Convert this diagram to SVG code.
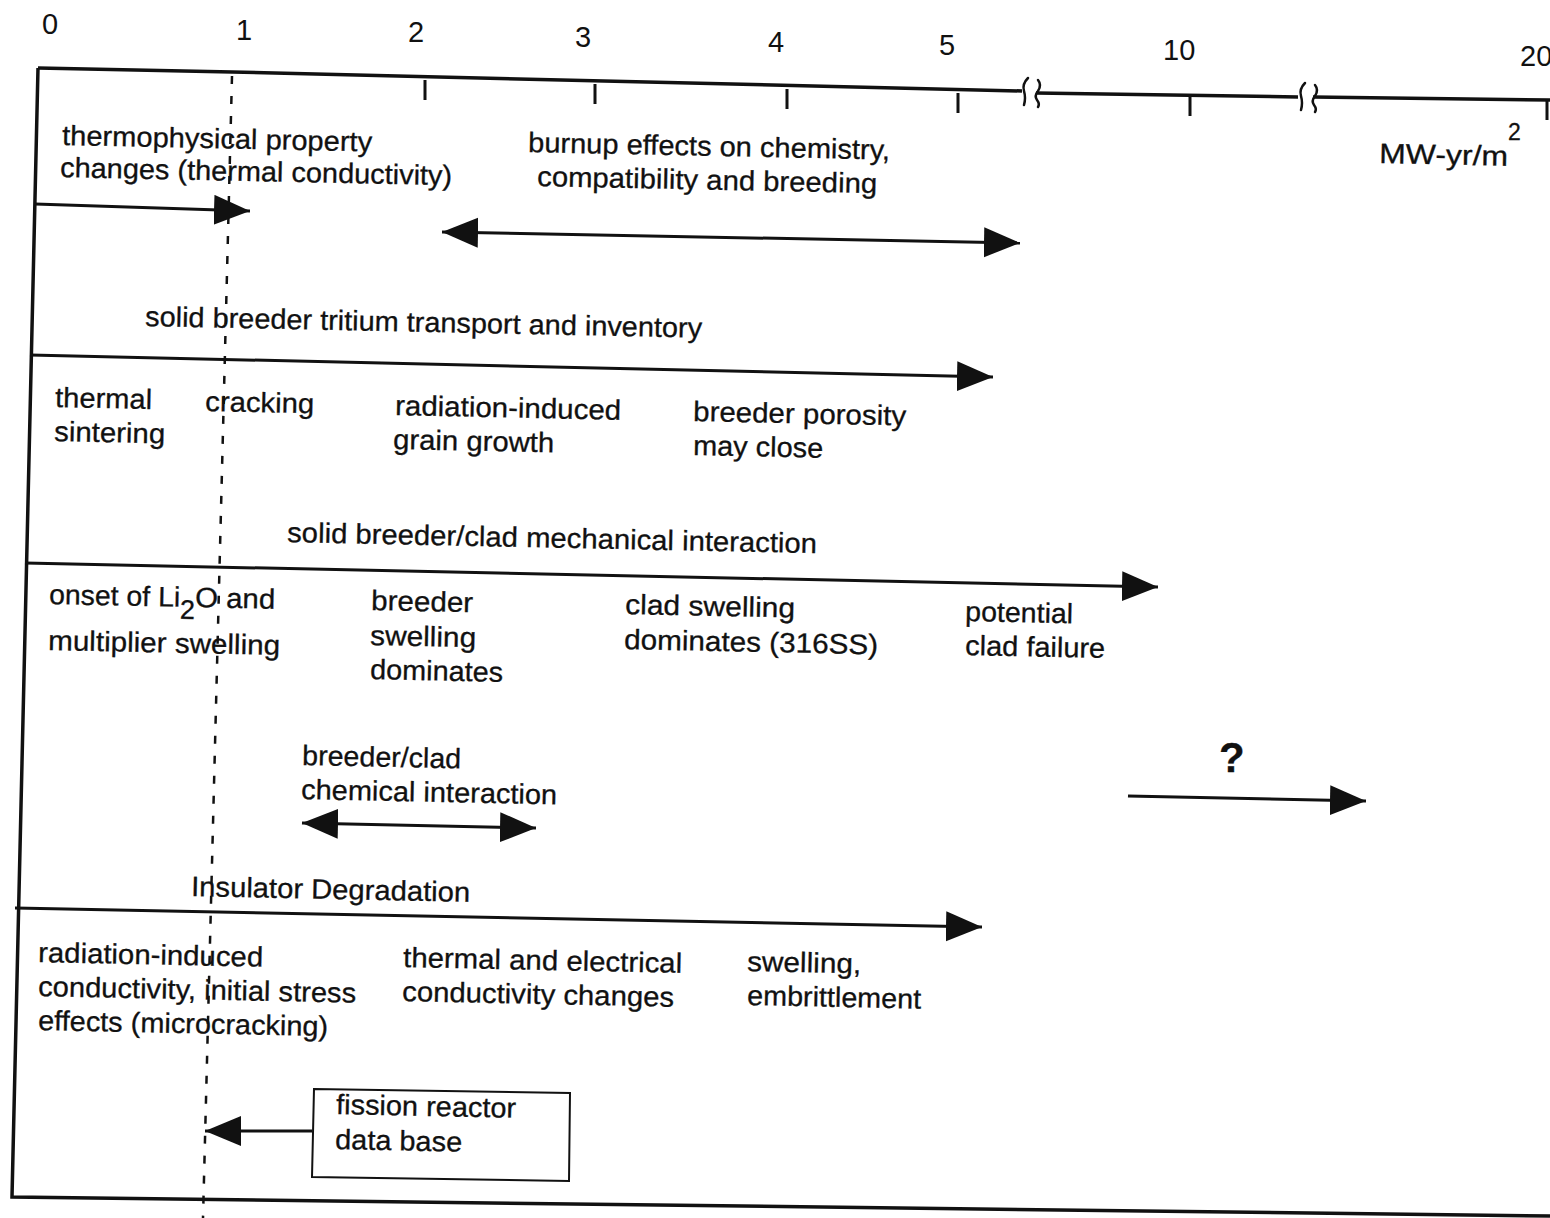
<svg xmlns="http://www.w3.org/2000/svg" width="1550" height="1218" viewBox="0 0 1550 1218">
<defs>
<style>
.t{font-family:"Liberation Sans",Arial,sans-serif;font-size:28px;fill:#111;stroke:#111;stroke-width:0.3}
.ax{font-family:"Liberation Sans",Arial,sans-serif;font-size:29px;fill:#111}
.ln{stroke:#111;stroke-width:3;fill:none}
.fr{stroke:#111;stroke-width:3.5;fill:none}
.brk{stroke:#111;stroke-width:2.5;fill:none;stroke-linecap:round}
.dash{stroke:#111;stroke-width:2.5;fill:none;stroke-dasharray:8 12}
.box{stroke:#111;stroke-width:2;fill:#fff}
</style>
<marker id="ah" markerUnits="userSpaceOnUse" markerWidth="40" markerHeight="32" refX="36" refY="15" orient="auto-start-reverse">
<path d="M0,0 L36,15 L0,30 Z" fill="#111"/>
</marker>
</defs>
<rect width="1550" height="1218" fill="#fff"/>

<g id="axis">
<path class="fr" d="M38,68 L232,72 L1022,91"/>
<path class="fr" d="M1036,93 L1298,97"/>
<path class="fr" d="M1313,97 L1550,100"/>
<path class="brk" d="M1028,78 q-6,6 -4,13 q2,7 0,14 M1038,80 q4,5 0,11 q-4,5 -1,9 q3,4 1,7"/>
<path class="brk" d="M1305,83 q-6,6 -4,13 q2,7 0,14 M1315,85 q4,5 0,11 q-4,5 -1,9 q3,4 1,7"/>
<path class="ln" d="M425,80 V100 M595,84 V104 M787,89 V109 M958,93 V113 M1190,96 V116 M1547,100 V120"/>
<text class="ax" x="42" y="34">0</text>
<text class="ax" x="236" y="40">1</text>
<text class="ax" x="408" y="42">2</text>
<text class="ax" x="575" y="47">3</text>
<text class="ax" x="768" y="52">4</text>
<text class="ax" x="939" y="55">5</text>
<text class="ax" x="1163" y="60">10</text>
<text class="ax" x="1520" y="66">20</text>
<text class="t" x="1379" y="163" textLength="129" lengthAdjust="spacingAndGlyphs" transform="rotate(1.2 1379 163)">MW-yr/m</text>
<text class="t" x="1508" y="140" style="font-size:23px">2</text>
</g>

<g id="frame">
<path class="fr" d="M38,68 L12,1197 L1550,1216"/>
<path class="dash" d="M232,76 L203,1218"/>
</g>

<g id="connectors">
<path class="ln" d="M35,204 L250,211" marker-end="url(#ah)"/>
<path class="ln" d="M442,232 L1020,243" marker-start="url(#ah)" marker-end="url(#ah)"/>
<path class="ln" d="M30,355 L993,377" marker-end="url(#ah)"/>
<path class="ln" d="M25,563 L1158,587" marker-end="url(#ah)"/>
<path class="ln" d="M302,823 L536,828" marker-start="url(#ah)" marker-end="url(#ah)"/>
<path class="ln" d="M1128,796 L1366,801" marker-end="url(#ah)"/>
<path class="ln" d="M15,908 L982,927" marker-end="url(#ah)"/>
<path class="ln" d="M312,1131 L205,1131" marker-end="url(#ah)"/>
</g>

<g id="thermophysical">
<text class="t" x="62" y="145" textLength="310" lengthAdjust="spacingAndGlyphs" transform="rotate(1.2 62 145)">thermophysical property</text>
<text class="t" x="60" y="177" textLength="392" lengthAdjust="spacingAndGlyphs" transform="rotate(1.2 60 177)">changes (thermal conductivity)</text>
</g>
<g id="burnup">
<text class="t" x="528" y="152" textLength="362" lengthAdjust="spacingAndGlyphs" transform="rotate(1.2 528 152)">burnup effects on chemistry,</text>
<text class="t" x="537" y="186" textLength="340" lengthAdjust="spacingAndGlyphs" transform="rotate(1.2 537 186)">compatibility and breeding</text>
</g>
<g id="tritium">
<text class="t" x="145" y="326" textLength="557" lengthAdjust="spacingAndGlyphs" transform="rotate(1.2 145 326)">solid breeder tritium transport and inventory</text>
</g>
<g id="sintering">
<text class="t" x="55" y="407" textLength="97" lengthAdjust="spacingAndGlyphs" transform="rotate(1.2 55 407)">thermal</text>
<text class="t" x="54" y="441" textLength="111" lengthAdjust="spacingAndGlyphs" transform="rotate(1.2 54 441)">sintering</text>
</g>
<g id="cracking">
<text class="t" x="205" y="411" textLength="109" lengthAdjust="spacingAndGlyphs" transform="rotate(1.2 205 411)">cracking</text>
</g>
<g id="graingrowth">
<text class="t" x="395" y="415" textLength="226" lengthAdjust="spacingAndGlyphs" transform="rotate(1.2 395 415)">radiation-induced</text>
<text class="t" x="393" y="449" textLength="161" lengthAdjust="spacingAndGlyphs" transform="rotate(1.2 393 449)">grain growth</text>
</g>
<g id="porosity">
<text class="t" x="693" y="421" textLength="213" lengthAdjust="spacingAndGlyphs" transform="rotate(1.2 693 421)">breeder porosity</text>
<text class="t" x="693" y="455" textLength="130" lengthAdjust="spacingAndGlyphs" transform="rotate(1.2 693 455)">may close</text>
</g>
<g id="mechanical">
<text class="t" x="287" y="542" textLength="530" lengthAdjust="spacingAndGlyphs" transform="rotate(1.2 287 542)">solid breeder/clad mechanical interaction</text>
</g>
<g id="onset">
<text class="t" x="49" y="604" transform="rotate(1.2 49 604)"><tspan textLength="131" lengthAdjust="spacingAndGlyphs">onset of Li</tspan><tspan dy="12" style="font-size:27px">2</tspan><tspan dy="-12" textLength="80" lengthAdjust="spacingAndGlyphs">O and</tspan></text>
<text class="t" x="48" y="650" textLength="232" lengthAdjust="spacingAndGlyphs" transform="rotate(1.2 48 650)">multiplier swelling</text>
</g>
<g id="breederswelling">
<text class="t" x="371" y="610" textLength="102" lengthAdjust="spacingAndGlyphs" transform="rotate(1.2 371 610)">breeder</text>
<text class="t" x="370" y="645" textLength="106" lengthAdjust="spacingAndGlyphs" transform="rotate(1.2 370 645)">swelling</text>
<text class="t" x="370" y="679" textLength="133" lengthAdjust="spacingAndGlyphs" transform="rotate(1.2 370 679)">dominates</text>
</g>
<g id="cladswelling">
<text class="t" x="625" y="614" textLength="170" lengthAdjust="spacingAndGlyphs" transform="rotate(1.2 625 614)">clad swelling</text>
<text class="t" x="624" y="649" textLength="254" lengthAdjust="spacingAndGlyphs" transform="rotate(1.2 624 649)">dominates (316SS)</text>
</g>
<g id="cladfailure">
<text class="t" x="965" y="621" textLength="108" lengthAdjust="spacingAndGlyphs" transform="rotate(1.2 965 621)">potential</text>
<text class="t" x="965" y="655" textLength="140" lengthAdjust="spacingAndGlyphs" transform="rotate(1.2 965 655)">clad failure</text>
</g>
<g id="chemical">
<text class="t" x="302" y="765" textLength="159" lengthAdjust="spacingAndGlyphs" transform="rotate(1.2 302 765)">breeder/clad</text>
<text class="t" x="301" y="799" textLength="256" lengthAdjust="spacingAndGlyphs" transform="rotate(1.2 301 799)">chemical interaction</text>
</g>
<g id="question">
<text class="t" x="1219" y="772" style="font-size:42px;font-weight:bold">?</text>
</g>
<g id="insulator">
<text class="t" x="191" y="896" textLength="279" lengthAdjust="spacingAndGlyphs" transform="rotate(1.2 191 896)">Insulator Degradation</text>
</g>
<g id="microcracking">
<text class="t" x="38" y="962" textLength="225" lengthAdjust="spacingAndGlyphs" transform="rotate(1.2 38 962)">radiation-induced</text>
<text class="t" x="38" y="996" textLength="318" lengthAdjust="spacingAndGlyphs" transform="rotate(1.2 38 996)">conductivity, initial stress</text>
<text class="t" x="38" y="1030" textLength="290" lengthAdjust="spacingAndGlyphs" transform="rotate(1.2 38 1030)">effects (microcracking)</text>
</g>
<g id="conductivity">
<text class="t" x="403" y="967" textLength="279" lengthAdjust="spacingAndGlyphs" transform="rotate(1.2 403 967)">thermal and electrical</text>
<text class="t" x="402" y="1001" textLength="272" lengthAdjust="spacingAndGlyphs" transform="rotate(1.2 402 1001)">conductivity changes</text>
</g>
<g id="embrittlement">
<text class="t" x="747" y="971" textLength="114" lengthAdjust="spacingAndGlyphs" transform="rotate(1.2 747 971)">swelling,</text>
<text class="t" x="747" y="1005" textLength="174" lengthAdjust="spacingAndGlyphs" transform="rotate(1.2 747 1005)">embrittlement</text>
</g>
<g id="fission">
<path class="box" d="M314,1089 L570,1093 L569,1181 L312,1177 Z"/>
<text class="t" x="336" y="1114" textLength="180" lengthAdjust="spacingAndGlyphs" transform="rotate(1.2 336 1114)">fission reactor</text>
<text class="t" x="335" y="1149" textLength="127" lengthAdjust="spacingAndGlyphs" transform="rotate(1.2 335 1149)">data base</text>
</g>
</svg>
